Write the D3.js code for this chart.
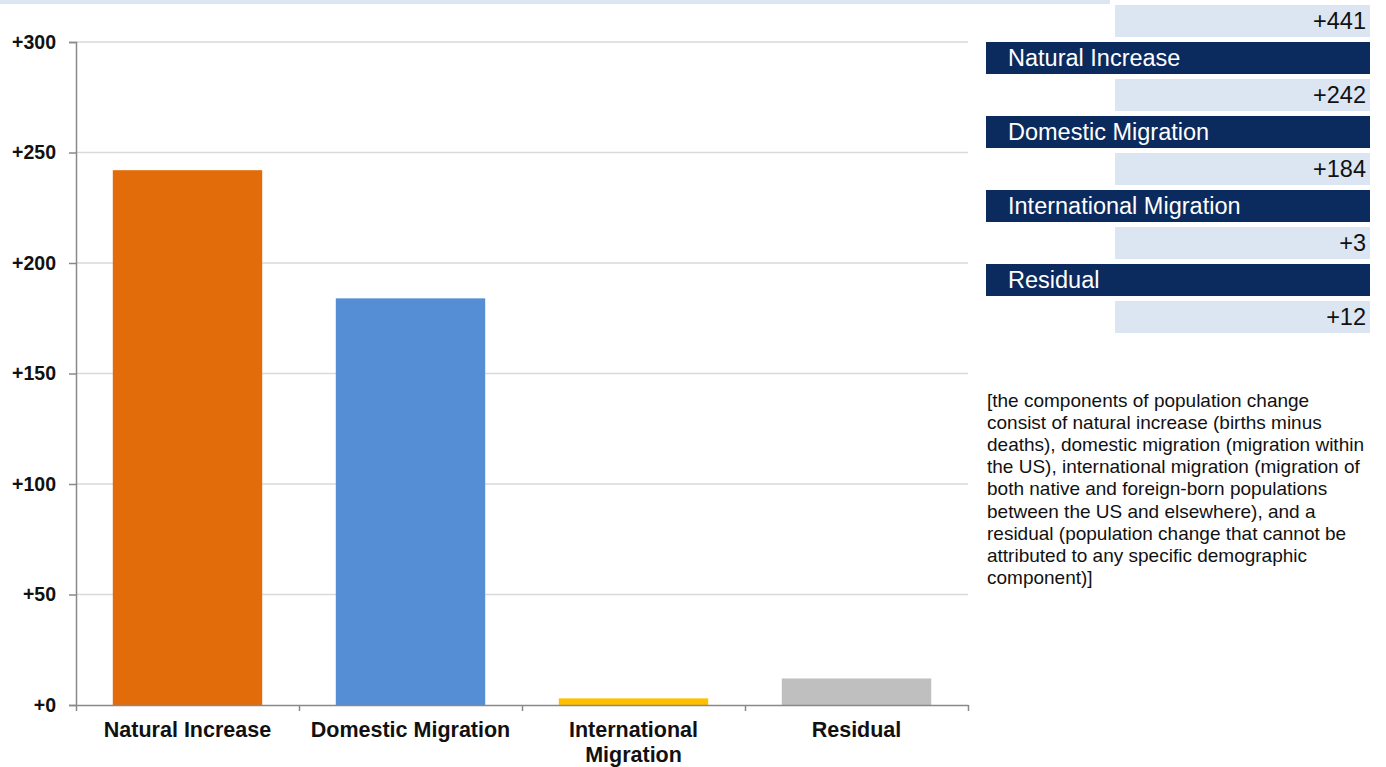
<!DOCTYPE html>
<html>
<head>
<meta charset="utf-8">
<script src="https://cdn.jsdelivr.net/npm/d3@7"></script>
<style>
  html, body { margin: 0; padding: 0; background: #fff; }
  svg { display: block; font-family: "Liberation Sans", Arial, sans-serif; }
</style>
</head>
<body>
<svg id="chart" width="1386" height="767"></svg>
<script>
// components of population change (thousands)
const categories = ["Natural Increase", "Domestic Migration", "International Migration", "Residual"];
const values = [242, 184, 3, 12];
const barColors = ["#e36c0a", "#558ed5", "#ffc000", "#bfbfbf"];
const yTicks = [0, 50, 100, 150, 200, 250, 300];
const note = [
  "[the components of population change",
  "consist of natural increase (births minus",
  "deaths), domestic migration (migration within",
  "the US), international migration (migration of",
  "both native and foreign-born populations",
  "between the US and elsewhere), and a",
  "residual (population change that cannot be",
  "attributed to any specific demographic",
  "component)]"
];

const fmt = d => "+" + d3.format(",")(d);

const svg = d3.select("#chart");

// header strip
svg.append("rect")
  .attr("x", 0).attr("y", 0)
  .attr("width", 1110).attr("height", 4)
  .attr("fill", "#dce6f2");

const plot = { left: 76, right: 968, top: 42, bottom: 705 };

const y = d3.scaleLinear().domain([0, 300]).range([plot.bottom, plot.top]);
const x = d3.scaleBand()
  .domain(categories)
  .range([plot.left, plot.right])
  .paddingInner(0.33)
  .paddingOuter(0.165);
// category boundaries for the tick marks
const xb = d3.scaleLinear().domain([0, categories.length]).range([plot.left, plot.right]);

// gridlines
svg.append("g")
  .selectAll("line")
  .data(yTicks.filter(d => d > 0))
  .join("line")
  .attr("x1", plot.left).attr("x2", plot.right)
  .attr("y1", d => y(d)).attr("y2", d => y(d))
  .attr("stroke", "#d9d9d9")
  .attr("stroke-width", 1.5);

// bars
svg.append("g")
  .selectAll("rect")
  .data(categories)
  .join("rect")
  .attr("x", d => x(d))
  .attr("width", x.bandwidth())
  .attr("y", (d, i) => y(values[i]))
  .attr("height", (d, i) => y(0) - y(values[i]))
  .attr("fill", (d, i) => barColors[i]);

// y axis
const yAxis = svg.append("g")
  .attr("transform", `translate(${plot.left},0)`)
  .call(d3.axisLeft(y).tickValues(yTicks).tickFormat(fmt).tickSize(7).tickPadding(13));
yAxis.select(".domain").attr("stroke", "#898989").attr("stroke-width", 1.5);
yAxis.selectAll(".tick line").attr("stroke", "#898989").attr("stroke-width", 1.5);
yAxis.selectAll(".tick text")
  .attr("font-size", 19.5).attr("font-weight", "bold").attr("fill", "#111")
  .style("font-family", "'Liberation Sans', Arial, sans-serif");

// x axis (ticks at category boundaries)
const xAxis = svg.append("g")
  .attr("transform", `translate(0,${plot.bottom})`)
  .call(d3.axisBottom(xb).tickValues(d3.range(categories.length + 1)).tickFormat("").tickSizeInner(6).tickSizeOuter(0));
xAxis.select(".domain").attr("stroke", "#898989").attr("stroke-width", 1.5);
xAxis.selectAll(".tick line").attr("stroke", "#898989").attr("stroke-width", 1.5);

// category labels, wrapped to the band
const labelG = svg.append("g")
  .attr("font-size", 21.5).attr("font-weight", "bold").attr("fill", "#111")
  .attr("text-anchor", "middle");
categories.forEach(c => {
  const cx = x(c) + x.bandwidth() / 2;
  const t = labelG.append("text").attr("x", cx).attr("y", 737);
  const words = c.split(" ");
  let line = [];
  let tspan = t.append("tspan").attr("x", cx).attr("dy", 0);
  words.forEach(w => {
    line.push(w);
    tspan.text(line.join(" "));
    if (tspan.node().getComputedTextLength() > x.step() - 10 && line.length > 1) {
      line.pop();
      tspan.text(line.join(" "));
      line = [w];
      tspan = t.append("tspan").attr("x", cx).attr("dy", 25).text(w);
    }
  });
});

// right panel: total, then label / value rows
const panel = { darkX: 986, lightX: 1115, right: 1370, rowH: 32, pitch: 37, top: 5 };
const rows = [{ type: "value", text: fmt(d3.sum(values)) }];
categories.forEach((c, i) => {
  rows.push({ type: "label", text: c });
  rows.push({ type: "value", text: fmt(values[i]) });
});

const rowG = svg.append("g")
  .selectAll("g")
  .data(rows)
  .join("g")
  .attr("transform", (d, i) => `translate(0,${panel.top + i * panel.pitch})`);

rowG.append("rect")
  .attr("x", d => d.type === "label" ? panel.darkX : panel.lightX)
  .attr("width", d => panel.right - (d.type === "label" ? panel.darkX : panel.lightX))
  .attr("height", panel.rowH)
  .attr("fill", d => d.type === "label" ? "#0b2a5e" : "#dce6f2");

rowG.append("text")
  .attr("x", d => d.type === "label" ? panel.darkX + 22 : panel.right - 4)
  .attr("y", panel.rowH / 2)
  .attr("dy", "0.36em")
  .attr("text-anchor", d => d.type === "label" ? "start" : "end")
  .attr("font-size", 23.5)
  .attr("fill", d => d.type === "label" ? "#fff" : "#111")
  .text(d => d.text);

// explanatory note
svg.append("text")
  .attr("font-size", 19)
  .attr("fill", "#111")
  .selectAll("tspan")
  .data(note)
  .join("tspan")
  .attr("x", 987)
  .attr("y", (d, i) => 407 + i * 22.1)
  .text(d => d);
</script>
</body>
</html>
